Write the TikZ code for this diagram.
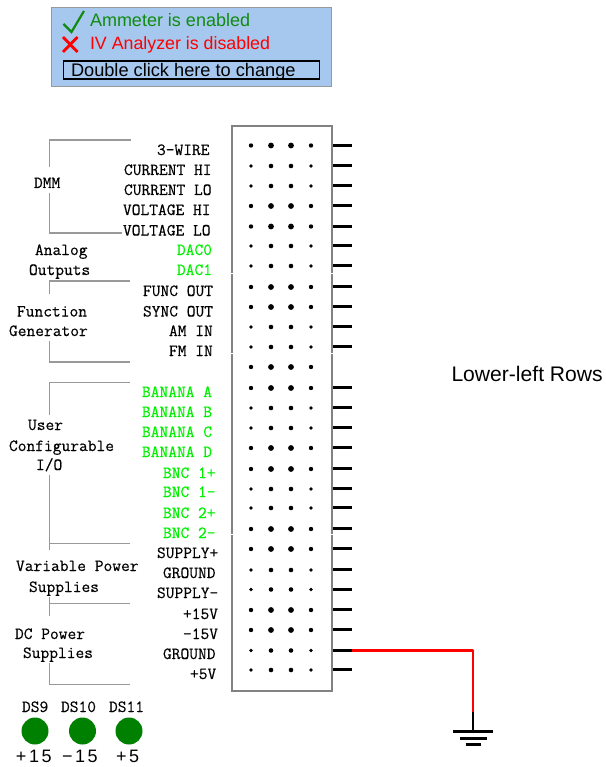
\documentclass[tikz,border=0pt]{standalone}
\usepackage{fontspec}
\setmainfont{Liberation Sans}
\newfontfamily\pinf[FakeBold=0.4]{Latin Modern Mono}
\newfontfamily\ledf[LetterSpace=14]{Liberation Sans}
\definecolor{panelblue}{HTML}{A6C8EE}
\definecolor{okgreen}{HTML}{118A11}
\definecolor{ledgreen}{HTML}{008000}
\definecolor{pingreen}{HTML}{00F000}
\definecolor{brk}{HTML}{999999}
\tikzset{
  pinlabel/.style={anchor=base west,inner sep=0pt,outer sep=0pt,font=\pinf\fontsize{17}{17}\selectfont},
  greenlabel/.style={pinlabel,text=pingreen},
  sans/.style={anchor=base west,inner sep=0pt,outer sep=0pt},
  bracket/.style={draw=brk,line width=1.1pt},
  pinline/.style={draw=black,line width=2.3pt},
  wire/.style={draw=red,line width=2.3pt,line join=round},
  led/.style={circle,fill=ledgreen,minimum size=27pt,inner sep=0pt},
  gaptick/.style={draw=white,line width=1pt},
}
\begin{document}
\begin{tikzpicture}[x=1pt,y=-1pt]
\useasboundingbox (0,0) rectangle (605,767);
% status panel
\node[draw=brk,line width=1pt,fill=panelblue,minimum width=280pt,minimum height=79pt,inner sep=0pt,anchor=north west] (panel) at (51,7) {};
\draw[okgreen,line width=2.2pt,line join=miter] (63.5,24) -- (71.5,32) -- (84,11);
\draw[red,line width=2.8pt] (63,37) -- (77.5,52);
\draw[red,line width=2.8pt] (77.5,37) -- (63,52);
\node[sans,text=okgreen,font=\fontsize{18}{20}\selectfont] (amm) at (90,26.5) {Ammeter is enabled};
\node[sans,text=red,font=\fontsize{17.8}{20}\selectfont] (iva) at (90,49.5) {IV Analyzer is disabled};
\node[draw=black,line width=1.2pt,minimum width=256pt,minimum height=18pt,inner sep=0pt,anchor=north west] (btn) at (63,60.5) {};
\node[sans,font=\fontsize{18.2}{20}\selectfont] (btnt) at (71,76.5) {Double click here to change};
\node[sans,font=\fontsize{21.1}{23}\selectfont] (rows) at (451.5,381) {Lower-left Rows};
% pins
\foreach \i/\y in {1/145.5,2/165.5,3/185.5,4/205.5,5/226.5,6/245.5,7/265.5,8/286.5,9/306.5,10/326.5,11/346.5,12/387.5,13/407.5,14/427.5,15/447.5,16/468.5,17/488.5,18/507.5,19/528.5,20/548.5,21/569.5,22/589.5,23/609.5,24/629.5,25/650.5,26/669.5}{
  \coordinate (p\i) at (332,\y);
  \coordinate (q\i) at (352,\y);
  \draw[pinline] (p\i) -- (q\i);
}
% breadboard
\node[draw=brk!85!black,line width=2.2pt,minimum width=100pt,minimum height=565pt,inner sep=0pt,anchor=north west] (board) at (231,125) {};
\foreach \y in {273,353.5,534}{
  \draw[gaptick] (230,\y) -- (232.5,\y);
  \draw[gaptick] (330,\y) -- (332.5,\y);
}
% holes
\foreach \y in {145.5,206,226.5,287,307,367,388,448,469,529,549,610,630}{
  \foreach \x/\r in {251/2.2,271/2.9,291/2.9,311/2.2}{\fill (\x,\y) circle (\r);}
}
\foreach \y in {166,186,246,266,327,347,408,428,489,508,570,589.5,650.5,670}{
  \foreach \x/\r in {251/1.8,271/2.3,291/2.3,311/1.8}{\fill (\x,\y) circle (\r);}
}
% pin labels
\foreach \t/\x/\y in {3-WIRE/157/155,CURRENT HI/124/175,CURRENT LO/124/195,VOLTAGE HI/123/215,VOLTAGE LO/123/235.5,FUNC OUT/143/296,SYNC OUT/143/316.5,AM IN/169/336,FM IN/169/356,SUPPLY+/157/558,GROUND/163/578,SUPPLY-/157/598,+15V/183/619,-15V/183/639,GROUND/163/659,+5V/190/679,DMM/34/188,Analog/35/255,Outputs/29/275,Function/17/316.5,Generator/9/336,User/28/430,Configurable/9/451,{I/O}/36/470,Variable Power/16/571,Supplies/29/592,DC Power/15/639,Supplies/23/658,DS9/22/712,DS10/61/712,DS11/109/712}{
  \node[pinlabel] at (\x,\y) {\t};
}
\foreach \t/\x/\y in {DAC0/177/255,DAC1/177/275,BANANA A/142/397,BANANA B/142/417,BANANA C/142/437,BANANA D/142/457,BNC 1+/163/478,BNC 1-/163/497,BNC 2+/163/518,BNC 2-/163/538}{
  \node[greenlabel] at (\x,\y) {\t};
}
% brackets
\draw[bracket] (131,140) -- (49.5,140) -- (49.5,167);
\draw[bracket] (49.5,193) -- (49.5,233) -- (122,233);
\draw[bracket] (129.5,281) -- (49.5,281) -- (49.5,294);
\draw[bracket] (49.5,341) -- (49.5,362) -- (129.5,362);
\draw[bracket] (129.5,382.5) -- (49.5,382.5) -- (49.5,415);
\draw[bracket] (49.5,475) -- (49.5,550);
\draw[bracket] (49.5,543.5) -- (129.5,543.5);
\draw[bracket] (49.5,597) -- (49.5,616);
\draw[bracket] (49.5,603.5) -- (129.5,603.5);
\draw[bracket] (49.5,663) -- (49.5,684.5) -- (129.5,684.5);
% LEDs
\node[led] (ds9) at (35,731) {};
\node[led] (ds10) at (82.5,731) {};
\node[led] (ds11) at (129,731) {};
\node[sans,font=\ledf\fontsize{18}{18}\selectfont] at (16,762) {+15};
\node[sans,font=\ledf\fontsize{18}{18}\selectfont] at (62,762) {−15};
\node[sans,font=\ledf\fontsize{18}{18}\selectfont] at (116,762) {+5};
% ground wire
\coordinate (gc) at (473,650.5);
\coordinate (gm) at (473,712);
\coordinate (gnd) at (473,731.5);
\draw[wire] (q25) -- (gc) -- (gm);
\draw[pinline] (gm) -- (gnd);
\draw[pinline] ([xshift=-20pt]gnd) -- ([xshift=20pt]gnd);
\draw[pinline] ([xshift=-13.5pt,yshift=-7pt]gnd) -- ([xshift=13.5pt,yshift=-7pt]gnd);
\draw[pinline] ([xshift=-7.5pt,yshift=-13pt]gnd) -- ([xshift=7.5pt,yshift=-13pt]gnd);
\end{tikzpicture}
\end{document}
